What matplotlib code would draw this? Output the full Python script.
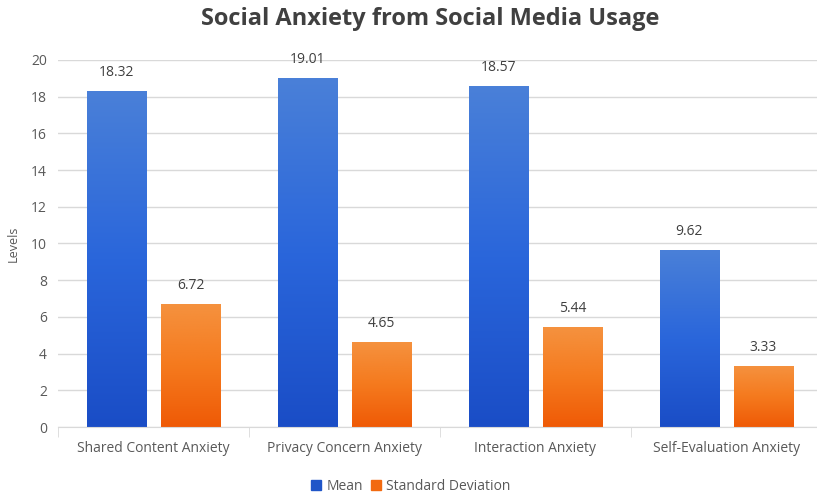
import numpy as np
import matplotlib
matplotlib.use('Agg')
import matplotlib.pyplot as plt
from matplotlib.colors import LinearSegmentedColormap
from matplotlib.patches import Patch

categories = ['Shared Content Anxiety', 'Privacy Concern Anxiety',
              'Interaction Anxiety', 'Self-Evaluation Anxiety']
mean_vals = [18.32, 19.01, 18.57, 9.62]
sd_vals = [6.72, 4.65, 5.44, 3.33]
y_ticks = [0, 2, 4, 6, 8, 10, 12, 14, 16, 18, 20]

plt.rcParams['font.family'] = ['Open Sans', 'DejaVu Sans']
text_col = '#595959'

fig = plt.figure(figsize=(8.17, 4.94), dpi=100)
# plot area runs a little past the right edge, like the original
ax = fig.add_axes([0.071, 0.1356, 0.935, 0.743])

x = np.arange(len(categories))
width = 0.31
offset = 0.194

blue_cmap = LinearSegmentedColormap.from_list('b', ['#1a4dc6', '#2a66db', '#4a80d8'])
orange_cmap = LinearSegmentedColormap.from_list('o', ['#ef5a06', '#f57a1e', '#f5923f'])


def gradient_bars(xs, vals, cmap):
    bars = ax.bar(xs, vals, width, color='none', edgecolor='none', zorder=2)
    grad = np.linspace(0, 1, 256).reshape(-1, 1)
    for b in bars:
        x0, y0 = b.get_x(), b.get_y()
        im = ax.imshow(grad, cmap=cmap, aspect='auto', origin='lower',
                       extent=[x0, x0 + b.get_width(), y0, y0 + b.get_height()],
                       zorder=2)
        im.set_clip_path(b)
    return bars


gradient_bars(x - offset, mean_vals, blue_cmap)
gradient_bars(x + offset, sd_vals, orange_cmap)

for i in range(len(categories)):
    ax.text(x[i] - offset, mean_vals[i] + 0.6, f'{mean_vals[i]:.2f}', ha='center',
            va='bottom', fontsize=10, color='#404040')
    ax.text(x[i] + offset, sd_vals[i] + 0.6, f'{sd_vals[i]:.2f}', ha='center',
            va='bottom', fontsize=10, color='#404040')

ax.set_xlim(-0.5, len(categories) - 0.5)
ax.set_ylim(0, 20)
ax.set_yticks(y_ticks)
ax.set_xticks(x)
ax.set_xticklabels(categories, fontsize=10, color=text_col)
ax.tick_params(axis='y', length=0, labelsize=10, labelcolor=text_col, pad=8)
ax.tick_params(axis='x', length=0, pad=10)
ax.set_xticks(np.arange(-0.5, len(categories), 1), minor=True)
ax.tick_params(axis='x', which='minor', length=7, color='#d9d9d9')
ax.grid(axis='y', color='#d9d9d9', linewidth=1, zorder=0)
ax.set_axisbelow(True)
for s in ['top', 'right', 'left']:
    ax.spines[s].set_visible(False)
ax.spines['bottom'].set_color('#d9d9d9')

ax.set_ylabel('Levels', fontsize=9, color=text_col, labelpad=8)

fig.suptitle('Social Anxiety from Social Media Usage', fontsize=17, fontweight='bold',
             color='#404040', x=0.527, y=0.985)

handles = [Patch(color='#1f55c8', label='Mean'),
           Patch(color='#f26a10', label='Standard Deviation')]
fig.legend(handles=handles, loc='lower center', bbox_to_anchor=(0.503, -0.025), ncol=2,
           frameon=False, fontsize=10, handlelength=0.7, handleheight=0.7,
           handletextpad=0.4, columnspacing=0.6, labelcolor=text_col)

fig.savefig('out.png', dpi=100)
